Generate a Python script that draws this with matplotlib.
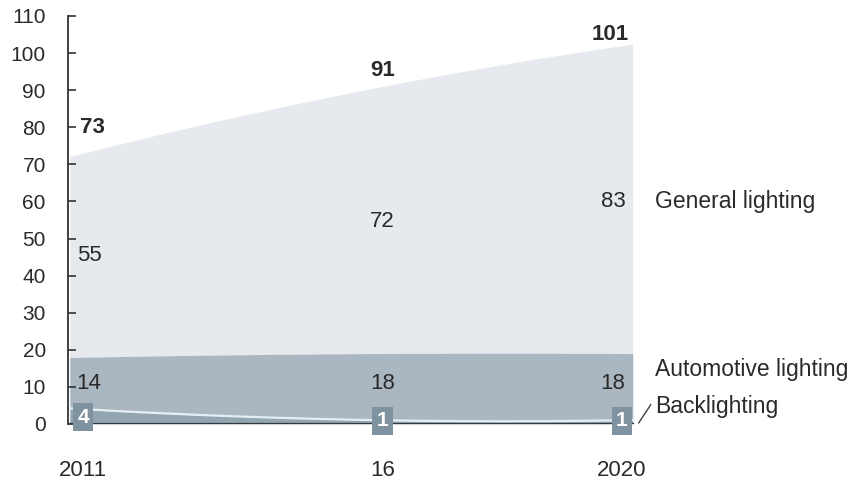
import numpy as np
import matplotlib
matplotlib.use("Agg")
import matplotlib.pyplot as plt
from matplotlib.lines import Line2D

plt.rcParams['font.family'] = ['Liberation Sans', 'DejaVu Sans']

# LED lighting market by application (values per year)
years = [2011, 2016, 2020]
year_labels = ["2011", "16", "2020"]
backlighting = [4, 1, 1]
automotive = [14, 18, 18]
general = [55, 72, 83]
totals = [73, 91, 101]
segment_names = ["General lighting", "Automotive lighting", "Backlighting"]
y_ticks = list(range(0, 111, 10))

c_general = "#e6e9ee"
c_auto = "#aab7c1"
c_back = "#93a5b0"
c_box = "#7e929f"
c_text = "#2a2a2a"

fig = plt.figure(figsize=(8.64, 4.84), dpi=100)
ax = fig.add_axes([0.0787, 0.124, 0.662, 0.843])

yrs = np.array(years, dtype=float)
b = np.array(backlighting, dtype=float)
a = b + np.array(automotive, dtype=float)
g = a + np.array(general, dtype=float)

# smooth the stacked boundaries through the yearly values
xs = np.linspace(2010.78, 2020.18, 200)
def smooth(v):
    return np.polyval(np.polyfit(yrs, v, 2), xs)

sb, sa, sg = smooth(b), smooth(a), smooth(g)
ax.fill_between(xs, sa, sg, color=c_general, lw=0)
ax.fill_between(xs, sb, sa, color=c_auto, lw=0)
ax.fill_between(xs, 0, sb, color=c_back, lw=0)
ax.plot(xs, sb, color="#e4eef3", lw=1.6)
ax.plot(xs, np.zeros_like(xs), color="#2f3a42", lw=1.6)

ax.set_xlim(2010.75, 2020.30)
ax.set_ylim(0, 110)
ax.set_yticks(y_ticks)
ax.tick_params(axis='y', direction='in', length=6, width=1.2, color="#333333",
               pad=16, labelsize=15, labelcolor=c_text)
ax.set_xticks(years)
ax.set_xticklabels(year_labels)
ax.tick_params(axis='x', length=0, pad=26, labelsize=16, labelcolor=c_text)
for s in ["top", "right", "bottom"]:
    ax.spines[s].set_visible(False)
ax.spines["left"].set_color("#333333")
ax.spines["left"].set_linewidth(1.3)
ax.spines["left"].set_bounds(0, 110)

fs = 16.5

# totals
tot_y = [80, 95.4, 105]
tot_x = [2011.15, 2016, 2019.8]
for x, y, v in zip(tot_x, tot_y, totals):
    ax.text(x, y, str(v), ha="center", va="center", fontsize=16,
            fontweight="bold", color=c_text)

# general lighting values
gen_pos = [(2011.1, 45.5), (2016, 54.7), (2019.85, 60)]
for (x, y), v in zip(gen_pos, general):
    ax.text(x, y, str(v), ha="center", va="center", fontsize=16, color=c_text)

# automotive values
auto_pos = [(2011.1, 11), (2016, 11), (2019.85, 11)]
for (x, y), v in zip(auto_pos, automotive):
    ax.text(x, y, str(v), ha="center", va="center", fontsize=16, color=c_text)

# backlighting value boxes
box_y = [1.8, 0.9, 0.9]
for x, y, v in zip(years, box_y, backlighting):
    ax.text(x, y, str(v), ha="center", va="center", fontsize=15,
            fontweight="bold", color="white",
            bbox=dict(boxstyle="square,pad=0.22", fc=c_box, ec="none"))

# segment labels on the right
lab_x = 2020.55
ax.text(lab_x, 60, segment_names[0], ha="left", va="center", fontsize=fs,
        color=c_text, clip_on=False)
ax.text(lab_x, 14.8, segment_names[1], ha="left", va="center", fontsize=fs,
        color=c_text, clip_on=False)
ax.text(lab_x, 4.6, segment_names[2], ha="left", va="center", fontsize=fs,
        color=c_text, clip_on=False)
ax.add_line(Line2D([2020.28, 2020.48], [0.3, 5.2], color="#444444", lw=1,
                   clip_on=False))

fig.savefig("out.png", dpi=100, facecolor="white")
